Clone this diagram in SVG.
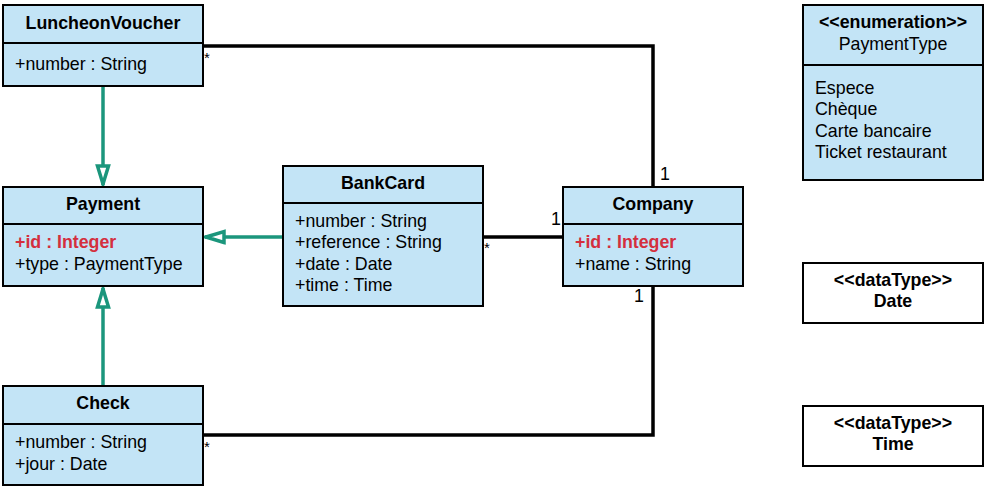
<svg xmlns="http://www.w3.org/2000/svg" width="987" height="491" viewBox="0 0 987 491">
<defs>
<style>
.box{fill:#c3e4f6;stroke:#000;stroke-width:2}
.wbox{fill:#fff;stroke:#000;stroke-width:2}
.div{stroke:#000;stroke-width:2}
text{font-family:"Liberation Sans",Arial,sans-serif;font-size:17.8px;fill:#000}
.t{font-weight:bold;text-anchor:middle}
.c{text-anchor:middle}
.red{fill:#d42f3e;font-weight:bold}
.assoc{fill:none;stroke:#000;stroke-width:3.5}
.gen{fill:none;stroke:#1b967c;stroke-width:3.5}
.m{font-size:15px}
</style>
<marker id="tri" viewBox="0 0 24 16" refX="22" refY="8" markerWidth="24" markerHeight="16" markerUnits="userSpaceOnUse" orient="auto">
<path d="M3,2.5 L21,8 L3,13.5 Z" fill="#fff" stroke="#1b967c" stroke-width="3.5" stroke-linejoin="miter"/>
</marker>
</defs>
<g id="connectors">
<polyline class="assoc" points="203,46 653,46 653,187"/>
<line class="assoc" x1="483" y1="237" x2="563" y2="237"/>
<polyline class="assoc" points="203,435 653,435 653,286"/>
<line class="gen" x1="103" y1="87" x2="103" y2="185" marker-end="url(#tri)"/>
<line class="gen" x1="282" y1="237" x2="205" y2="237" marker-end="url(#tri)"/>
<line class="gen" x1="103" y1="385" x2="103" y2="288" marker-end="url(#tri)"/>
<text class="m" x="204" y="63">*</text>
<text x="660" y="180">1</text>
<text class="m" x="484" y="253">*</text>
<text x="551" y="225">1</text>
<text class="m" x="204" y="452">*</text>
<text x="634" y="302">1</text>
</g>
<g id="LuncheonVoucher">
<rect class="box" x="3" y="5" width="200" height="81"/>
<line class="div" x1="3" y1="43" x2="203" y2="43"/>
<text class="t" x="103" y="29">LuncheonVoucher</text>
<text x="15" y="70">+number : String</text>
</g>
<g id="Payment">
<rect class="box" x="3" y="187" width="200" height="99"/>
<line class="div" x1="3" y1="224" x2="203" y2="224"/>
<text class="t" x="103" y="210">Payment</text>
<text class="red" x="15" y="248">+id : Integer</text>
<text x="15" y="270">+type : PaymentType</text>
</g>
<g id="Check">
<rect class="box" x="3" y="386" width="200" height="99"/>
<line class="div" x1="3" y1="424" x2="203" y2="424"/>
<text class="t" x="103" y="409">Check</text>
<text x="15" y="448">+number : String</text>
<text x="15" y="470">+jour : Date</text>
</g>
<g id="BankCard">
<rect class="box" x="283" y="166" width="200" height="140"/>
<line class="div" x1="283" y1="203" x2="483" y2="203"/>
<text class="t" x="383" y="189">BankCard</text>
<text x="295" y="227">+number : String</text>
<text x="295" y="248">+reference : String</text>
<text x="295" y="270">+date : Date</text>
<text x="295" y="291">+time : Time</text>
</g>
<g id="Company">
<rect class="box" x="563" y="187" width="180" height="99"/>
<line class="div" x1="563" y1="224" x2="743" y2="224"/>
<text class="t" x="653" y="210">Company</text>
<text class="red" x="575" y="248">+id : Integer</text>
<text x="575" y="270">+name : String</text>
</g>
<g id="PaymentType">
<rect class="box" x="803" y="5" width="180" height="175"/>
<line class="div" x1="803" y1="65" x2="983" y2="65"/>
<text class="t" x="893" y="28">&lt;&lt;enumeration&gt;&gt;</text>
<text class="c" x="893" y="50">PaymentType</text>
<text x="815" y="94">Espece</text>
<text x="815" y="115">Chèque</text>
<text x="815" y="137">Carte bancaire</text>
<text x="815" y="158">Ticket restaurant</text>
</g>
<g id="Date">
<rect class="wbox" x="803" y="263" width="180" height="60"/>
<text class="t" x="893" y="286">&lt;&lt;dataType&gt;&gt;</text>
<text class="t" x="893" y="307">Date</text>
</g>
<g id="Time">
<rect class="wbox" x="803" y="406" width="180" height="60"/>
<text class="t" x="893" y="429">&lt;&lt;dataType&gt;&gt;</text>
<text class="t" x="893" y="450">Time</text>
</g>
</svg>
